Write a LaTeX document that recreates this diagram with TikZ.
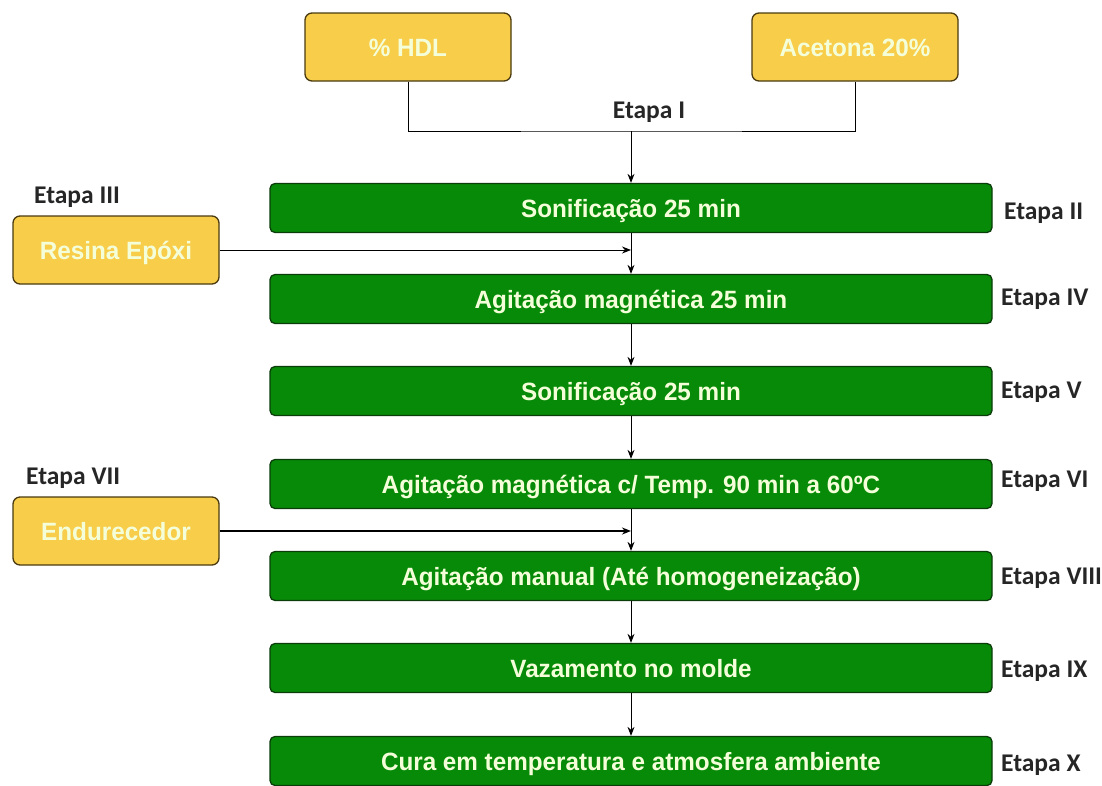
\documentclass[tikz,border=0pt]{standalone}
\usepackage{fontspec}
\setmainfont{Carlito}
\newfontfamily\boxfont[FakeStretch=0.97]{Liberation Sans}
\usetikzlibrary{arrows.meta}
\definecolor{gbox}{HTML}{078A07}
\definecolor{gedge}{HTML}{0B3D0B}
\definecolor{ybox}{HTML}{F8CD4A}
\definecolor{yedge}{HTML}{4A3A10}
\definecolor{btext}{HTML}{F4FFDA}
\tikzset{
  greenbox/.style={draw=gedge, line width=1.3pt, fill=gbox, rounded corners=5pt,
    minimum width=722pt, minimum height=49pt, inner sep=0pt,
    text height=18pt, text depth=0pt,
    font=\boxfont\bfseries\fontsize{25}{29}\selectfont, text=btext},
  yellowbox/.style={draw=yedge, line width=1.3pt, fill=ybox, rounded corners=7pt,
    minimum width=206pt, minimum height=68pt, inner sep=0pt,
    text height=18pt, text depth=0pt,
    font=\boxfont\bfseries\fontsize{25}{29}\selectfont, text=btext},
  etapa/.style={font=\bfseries\fontsize{25.5}{30}\selectfont, text=black!85, inner sep=0pt},
  conn/.style={draw=black, line width=0.9pt},
  arr/.style={conn, -{Stealth[length=9pt,width=7pt]}},
}
\begin{document}
\begin{tikzpicture}[x=1pt,y=-1pt]
\useasboundingbox (0,0) rectangle (1102,785);
% top inputs
\node[yellowbox] (hdl) at (408,47) {\% HDL};
\node[yellowbox] (acet) at (855,47) {Acetona 20\%};
% green process boxes
\node[greenbox] (s1) at (631,208) {Sonificação 25 min};
\node[greenbox] (a1) at (631,299) {Agitação magnética 25 min};
\node[greenbox] (s2) at (631,391) {Sonificação 25 min};
\node[greenbox] (a2) at (631,484) {Agitação magnética c/ Temp. 90 min a 60ºC};
\node[greenbox] (am) at (631,576) {Agitação manual (Até homogeneização)};
\node[greenbox] (vz) at (631,668) {Vazamento no molde};
\node[greenbox] (cu) at (631,761) {Cura em temperatura e atmosfera ambiente};
% side inputs
\node[yellowbox] (res) at (116,250) {Resina Epóxi};
\node[yellowbox] (end) at (116,531) {Endurecedor};
% labels
\node[etapa] at (649,112) {Etapa I};
\node[etapa, anchor=west] at (34,197) {Etapa III};
\node[etapa, anchor=west] at (26,478) {Etapa VII};
\node[etapa, anchor=west] at (1004,213) {Etapa II};
\node[etapa, anchor=west] at (1001,299) {Etapa IV};
\node[etapa, anchor=west] at (1001,392) {Etapa V};
\node[etapa, anchor=west] at (1001,481) {Etapa VI};
\node[etapa, anchor=west] at (1001,578) {Etapa VIII};
\node[etapa, anchor=west] at (1001,671) {Etapa IX};
\node[etapa, anchor=west] at (1001,765) {Etapa X};
% top merge
\coordinate (jn) at (631,131);
\draw[conn] (hdl.south) |- (jn) -| (acet.south);
\draw[arr] (jn) -- (s1.north);
% chain
\draw[arr] (s1.south) -- (a1.north);
\draw[arr] (a1.south) -- (s2.north);
\draw[arr] (s2.south) -- (a2.north);
\draw[arr] (a2.south) -- (am.north);
\draw[arr] (am.south) -- (vz.north);
\draw[arr] (vz.south) -- (cu.north);
% side arrows
\coordinate (rj) at (631,250);
\coordinate (ej) at (631,531);
\draw[arr] (res.east) -- (rj);
\draw[arr, line width=1.8pt] (end.east) -- (ej);
\end{tikzpicture}
\end{document}
